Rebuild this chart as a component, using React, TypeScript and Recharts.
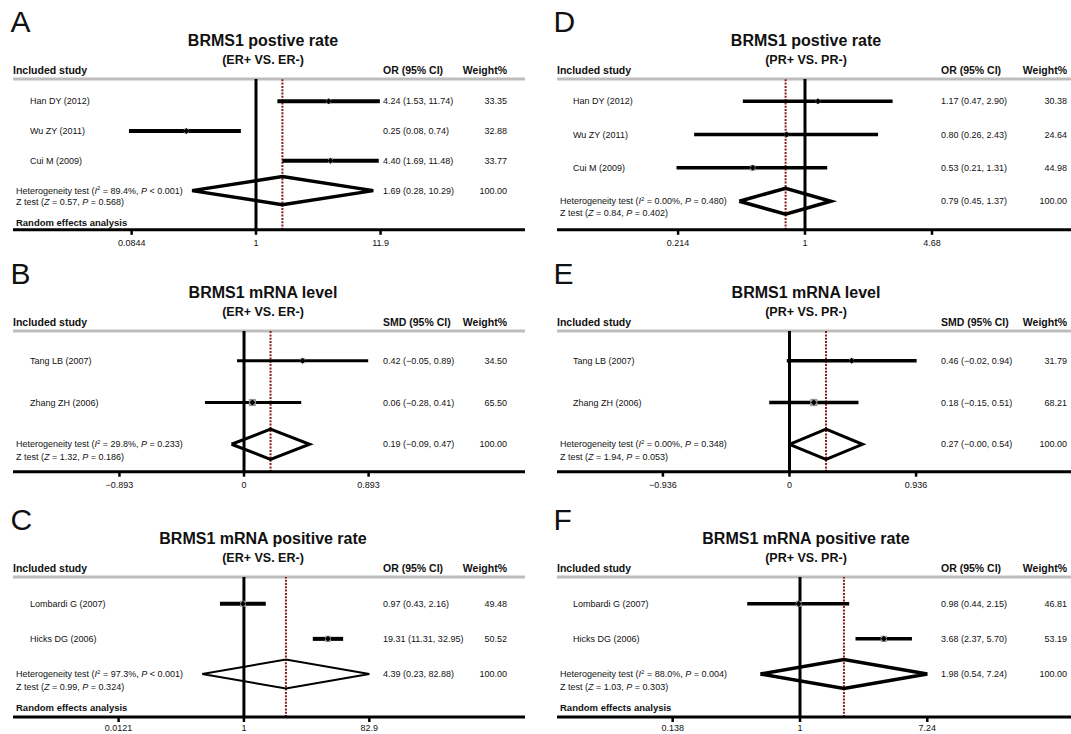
import React from 'react';
import { ScatterChart, Scatter, XAxis, YAxis, ReferenceLine, ErrorBar } from 'recharts';

const FONT = '"Liberation Sans", Arial, Helvetica, sans-serif';

// ---------- Panel A ----------
const studiesA = ['Han DY (2012)', 'Wu ZY (2011)', 'Cui M (2009)'];
const estA = [4.24, 0.25, 4.4];
const lowA = [1.53, 0.08, 1.69];
const highA = [11.74, 0.74, 11.48];
const weightA = [33.35, 32.88, 33.77];
const pooledA = [1.69, 0.28, 10.29];
const hetA = ['89.4%', '< 0.001'];
const zTestA = ['0.57', '= 0.568'];
const ticksA = [0.0844, 1, 11.9];

// ---------- Panel B ----------
const studiesB = ['Tang LB (2007)', 'Zhang ZH (2006)'];
const estB = [0.42, 0.06];
const lowB = [-0.05, -0.28];
const highB = [0.89, 0.41];
const weightB = [34.5, 65.5];
const pooledB = [0.19, -0.09, 0.47];
const hetB = ['29.8%', '= 0.233'];
const zTestB = ['1.32', '= 0.186'];
const ticksB = [-0.893, 0, 0.893];

// ---------- Panel C ----------
const studiesC = ['Lombardi G (2007)', 'Hicks DG (2006)'];
const estC = [0.97, 19.31];
const lowC = [0.43, 11.31];
const highC = [2.16, 32.95];
const weightC = [49.48, 50.52];
const pooledC = [4.39, 0.23, 82.88];
const hetC = ['97.3%', '< 0.001'];
const zTestC = ['0.99', '= 0.324'];
const ticksC = [0.0121, 1, 82.9];

// ---------- Panel D ----------
const studiesD = ['Han DY (2012)', 'Wu ZY (2011)', 'Cui M (2009)'];
const estD = [1.17, 0.8, 0.53];
const lowD = [0.47, 0.26, 0.21];
const highD = [2.9, 2.43, 1.31];
const weightD = [30.38, 24.64, 44.98];
const pooledD = [0.79, 0.45, 1.37];
const hetD = ['0.00%', '= 0.480'];
const zTestD = ['0.84', '= 0.402'];
const ticksD = [0.214, 1, 4.68];

// ---------- Panel E ----------
const studiesE = ['Tang LB (2007)', 'Zhang ZH (2006)'];
const estE = [0.46, 0.18];
const lowE = [-0.02, -0.15];
const highE = [0.94, 0.51];
const weightE = [31.79, 68.21];
const pooledE = [0.27, -0.0, 0.54];
const hetE = ['0.00%', '= 0.348'];
const zTestE = ['1.94', '= 0.053'];
const ticksE = [-0.936, 0, 0.936];

// ---------- Panel F ----------
const studiesF = ['Lombardi G (2007)', 'Hicks DG (2006)'];
const estF = [0.98, 3.68];
const lowF = [0.44, 2.37];
const highF = [2.15, 5.7];
const weightF = [46.81, 53.19];
const pooledF = [1.98, 0.54, 7.24];
const hetF = ['88.0%', '= 0.004'];
const zTestF = ['1.03', '= 0.303'];
const ticksF = [0.138, 1, 7.24];

type Side = 'L' | 'R';
interface PanelDef {
  letter: string; title: string; subtitle: string; effect: string;
  studies: string[]; est: number[]; low: number[]; high: number[]; weight: number[];
  pooled: number[]; het: string[]; z: string[]; ticks: number[]; log: boolean; random: boolean;
  side: Side; grey: number; axis: number; yDom: [number, number]; xDom: [number, number];
  dH: number; randomRow: number; tickMargin: number; ciW: number; dW: number; zOff: number;
}

const panels: PanelDef[] = [
  { letter: 'A', title: 'BRMS1 postive rate', subtitle: '(ER+ VS. ER-)', effect: 'OR (95% CI)',
    studies: studiesA, est: estA, low: lowA, high: highA, weight: weightA, pooled: pooledA, het: hetA, z: zTestA, ticks: ticksA, log: true, random: true,
    side: 'L', grey: 78.5, axis: 229.3, yDom: [0.255, 5.315], xDom: [-4.831, 5.348], dH: 0.47, randomRow: 5.06, tickMargin: 5, ciW: 4, dW: 3.5, zOff: 11.5 },
  { letter: 'B', title: 'BRMS1 mRNA level', subtitle: '(ER+ VS. ER-)', effect: 'SMD (95% CI)',
    studies: studiesB, est: estB, low: lowB, high: highB, weight: weightB, pooled: pooledB, het: hetB, z: zTestB, ticks: ticksB, log: false, random: false,
    side: 'L', grey: 331, axis: 471.7, yDom: [0.29, 3.656], xDom: [-1.656, 2.014], dH: 0.36, randomRow: 0, tickMargin: 5, ciW: 3, dW: 3, zOff: 12.5 },
  { letter: 'C', title: 'BRMS1 mRNA positive rate', subtitle: '(ER+ VS. ER-)', effect: 'OR (95% CI)',
    studies: studiesC, est: estC, low: lowC, high: highC, weight: weightC, pooled: pooledC, het: hetC, z: zTestC, ticks: ticksC, log: true, random: true,
    side: 'L', grey: 577, axis: 717, yDom: [0.24, 4.223], xDom: [-8.134, 9.901], dH: 0.41, randomRow: 3.97, tickMargin: 3, ciW: 4, dW: 2, zOff: 12.5 },
  { letter: 'D', title: 'BRMS1 postive rate', subtitle: '(PR+ VS. PR-)', effect: 'OR (95% CI)',
    studies: studiesD, est: estD, low: lowD, high: highD, weight: weightD, pooled: pooledD, het: hetD, z: zTestD, ticks: ticksD, log: true, random: false,
    side: 'R', grey: 78.5, axis: 229.3, yDom: [0.334, 4.858], xDom: [-3.013, 3.402], dH: 0.39, randomRow: 0, tickMargin: 5, ciW: 3.5, dW: 3.5, zOff: 11.5 },
  { letter: 'E', title: 'BRMS1 mRNA level', subtitle: '(PR+ VS. PR-)', effect: 'SMD (95% CI)',
    studies: studiesE, est: estE, low: lowE, high: highE, weight: weightE, pooled: pooledE, het: hetE, z: zTestE, ticks: ticksE, log: false, random: false,
    side: 'R', grey: 331, axis: 471.7, yDom: [0.29, 3.656], xDom: [-1.719, 2.185], dH: 0.36, randomRow: 0, tickMargin: 5, ciW: 3.5, dW: 3, zOff: 12.5 },
  { letter: 'F', title: 'BRMS1 mRNA positive rate', subtitle: '(PR+ VS. PR-)', effect: 'OR (95% CI)',
    studies: studiesF, est: estF, low: lowF, high: highF, weight: weightF, pooled: pooledF, het: hetF, z: zTestF, ticks: ticksF, log: true, random: true,
    side: 'R', grey: 577, axis: 717, yDom: [0.24, 4.223], xDom: [-3.779, 4.432], dH: 0.41, randomRow: 3.97, tickMargin: 3, ciW: 3.5, dW: 3.5, zOff: 12.5 },
];

const COLS = {
  L: { x0: 13, width: 512, inc: 13, or: 383, wr: 507, name: 30, het: 16, titleX: 263, letterX: 10.5 },
  R: { x0: 557, width: 528, inc: 557, or: 941, wr: 1067, name: 573, het: 560, titleX: 806, letterX: 553.5 },
};

const YW = 2; // hidden y-axis gutter width (must be > 0 for ticks to render)

const fmt = (v: number) => ((v < 0 || Object.is(v, -0)) ? '\u2212' : '') + Math.abs(v).toFixed(2);
const ciText = (e: number, l: number, h: number) => `${fmt(e)} (${fmt(l)}, ${fmt(h)})`;
const tickLabel = (v: number) => String(v).replace('-', '\u2212');

const TXT = { fontFamily: FONT, fontSize: 9, fill: '#111' } as const;

const Marker = (props: any) => {
  const { cx, cy, payload } = props;
  if (cx == null || cy == null) return <g />;
  const s = 2.5 + (payload?.w ?? 30) * 0.07;
  return (
    <g>
      <rect x={cx - s / 2} y={cy - s / 2} width={s} height={s} fill="#9a9a9a" />
      <path d={`M${cx - 3},${cy} L${cx},${cy - 3} L${cx + 3},${cy} L${cx},${cy + 3} Z`} fill="#000" />
    </g>
  );
};

const NoShape = () => <g />;

function Panel({ p }: { p: PanelDef }) {
  const c = COLS[p.side];
  const tx = (v: number) => (p.log ? Math.log(v) : v);
  const n = p.studies.length;
  const rows = p.studies.map((s, i) => {
    const x = tx(p.est[i]);
    return { x, y: i + 1, err: [x - tx(p.low[i]), tx(p.high[i]) - x], w: p.weight[i] };
  });
  const pr = n + 1;
  const pe = tx(p.pooled[0]), pl = tx(p.pooled[1]), ph = tx(p.pooled[2]);
  const diamond = [
    { x: pl, y: pr }, { x: pe, y: pr - p.dH }, { x: ph, y: pr }, { x: pe, y: pr + p.dH }, { x: pl, y: pr },
  ];
  const xTicks = p.ticks.map(tx);
  const total = p.weight.reduce((a, b) => a + b, 0);
  const yTicks = rows.map((r) => r.y).concat([pr]).concat(p.random ? [p.randomRow] : []);
  const plotH = p.axis - p.grey;
  const top = 4;
  const xAxisH = 22;
  const svgLeft = c.x0 - YW;
  const rel = (x: number) => x - svgLeft;

  const RowTick = (props: any) => {
    const y = props.y;
    const v = props.payload?.value;
    if (Math.abs(v - pr) < 1e-6) {
      return (
        <g>
          <text x={rel(c.het)} y={y} dy="0.35em" {...TXT}>
            Heterogeneity test (<tspan fontStyle="italic">I</tspan>
            <tspan fontSize={6} dy={-3.5}>2</tspan>
            <tspan dy={3.5}> = {p.het[0]}, </tspan>
            <tspan fontStyle="italic">P</tspan> {p.het[1]})
          </text>
          <text x={rel(c.het)} y={y + p.zOff} dy="0.35em" {...TXT}>
            Z test (<tspan fontStyle="italic">Z</tspan> = {p.z[0]}, <tspan fontStyle="italic">P</tspan> {p.z[1]})
          </text>
          <text x={rel(c.or)} y={y} dy="0.35em" {...TXT}>{ciText(p.pooled[0], p.pooled[1], p.pooled[2])}</text>
          <text x={rel(c.wr)} y={y} dy="0.35em" textAnchor="end" {...TXT}>{total.toFixed(2)}</text>
        </g>
      );
    }
    if (v > pr) {
      return (
        <text x={rel(c.het)} y={y} dy="0.35em" {...TXT} fontSize={9.5} fontWeight="bold">Random effects analysis</text>
      );
    }
    const i = Math.round(v) - 1;
    return (
      <g>
        <text x={rel(c.name)} y={y} dy="0.35em" {...TXT}>{p.studies[i]}</text>
        <text x={rel(c.or)} y={y} dy="0.35em" {...TXT}>{ciText(p.est[i], p.low[i], p.high[i])}</text>
        <text x={rel(c.wr)} y={y} dy="0.35em" textAnchor="end" {...TXT}>{p.weight[i].toFixed(2)}</text>
      </g>
    );
  };

  return (
    <div style={{ position: 'absolute', left: svgLeft, top: p.grey - top }}>
      <ScatterChart width={c.width + YW} height={top + plotH + xAxisH} margin={{ top, right: 0, bottom: 0, left: 0 }}>
        <XAxis
          type="number" dataKey="x" domain={p.xDom} allowDataOverflow ticks={xTicks} interval={0}
          tickFormatter={(v: number) => {
            const k = xTicks.findIndex((t) => Math.abs(t - v) < 1e-9);
            return k >= 0 ? tickLabel(p.ticks[k]) : '';
          }}
          axisLine={{ stroke: '#000', strokeWidth: 3 }}
          tickLine={{ stroke: '#000', strokeWidth: 2.5 }}
          tickSize={5} tickMargin={p.tickMargin} height={xAxisH}
          tick={{ fontSize: 9, fill: '#111', fontFamily: FONT }}
        />
        <YAxis
          type="number" dataKey="y" domain={p.yDom} reversed allowDataOverflow width={YW}
          axisLine={false} tickLine={false} ticks={yTicks} interval={0} tick={RowTick}
        />
        <ReferenceLine y={p.yDom[0]} stroke="#bdbdbd" strokeWidth={3} />
        <ReferenceLine x={0} stroke="#000" strokeWidth={3} />
        <ReferenceLine x={pe} stroke="#8b1c1c" strokeWidth={2} strokeDasharray="2 1.3" />
        <Scatter data={rows} fill="#000" shape={Marker} isAnimationActive={false}>
          <ErrorBar dataKey="err" direction="x" width={0} stroke="#000" strokeWidth={p.ciW} isAnimationActive={false} />
        </Scatter>
        <Scatter data={diamond} fill="#000" shape={NoShape} line={{ stroke: '#000', strokeWidth: p.dW, fill: 'none' }} isAnimationActive={false} />
      </ScatterChart>
    </div>
  );
}

function Headers() {
  return (
    <svg width={1071} height={734} style={{ position: 'absolute', left: 0, top: 0 }}>
      {panels.map((p) => {
        const c = COLS[p.side];
        const g = p.grey;
        return (
          <g key={p.letter} fontFamily={FONT} fill="#111">
            <text x={c.letterX} y={g - 46.8} fontSize={30}>{p.letter}</text>
            <text x={c.titleX} y={g - 32.8} fontSize={16} fontWeight="bold" textAnchor="middle">{p.title}</text>
            <text x={c.titleX} y={g - 15} fontSize={12.5} fontWeight="bold" textAnchor="middle">{p.subtitle}</text>
            <text x={c.inc} y={g - 5} fontSize={10.5} fontWeight="bold">Included study</text>
            <text x={c.or} y={g - 5} fontSize={10.5} fontWeight="bold">{p.effect}</text>
            <text x={c.wr} y={g - 5} fontSize={10.5} fontWeight="bold" textAnchor="end">Weight%</text>
          </g>
        );
      })}
    </svg>
  );
}

export default function App() {
  return (
    <div style={{ position: 'absolute', left: 0, top: 0, width: 1071, height: 734, overflow: 'hidden', background: '#fff', fontFamily: FONT }}>
      <Headers />
      {panels.map((p) => (
        <Panel key={p.letter} p={p} />
      ))}
    </div>
  );
}
